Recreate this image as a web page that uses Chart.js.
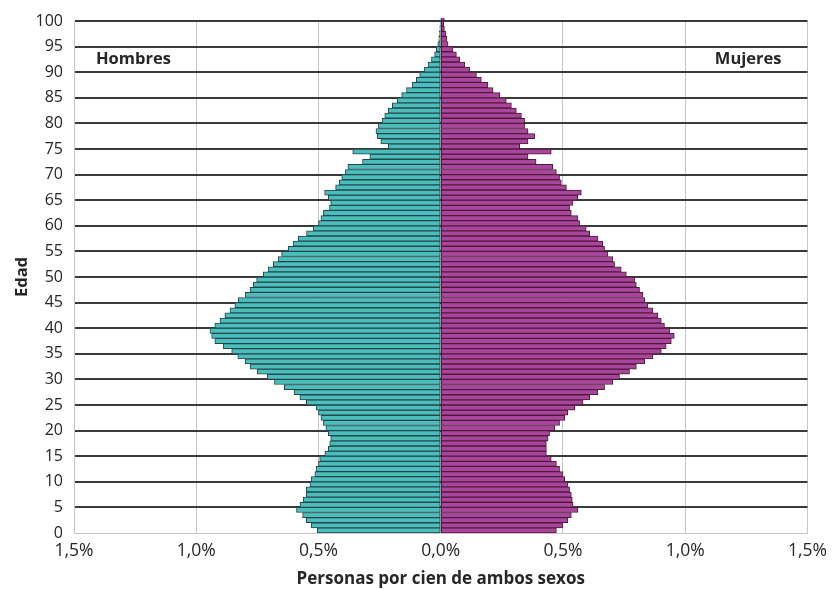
<!DOCTYPE html>
<html>
<head>
<meta charset="utf-8">
<script src="https://cdn.jsdelivr.net/npm/chart.js@4"></script>
<style>
  body { margin: 0; background: #fff; }
  #divPiramide { width: 835px; height: 589px; position: relative; }
</style>
</head>
<body>
<div id="divPiramide"><canvas id="graficoPiramide"></canvas></div>
<script>
// Edades 0..100 (una barra por año)
const edades = Array.from({ length: 101 }, (_, i) => i);

// Porcentaje de hombres por edad (se dibuja a la izquierda)
const hombres = [
  0.505, 0.53, 0.55, 0.565, 0.59, 0.576, 0.563, 0.55, 0.55, 0.535,
  0.53, 0.515, 0.51, 0.50, 0.495, 0.474, 0.46, 0.454, 0.45, 0.46,
  0.47, 0.48, 0.49, 0.50, 0.51, 0.55, 0.576, 0.60, 0.64, 0.68,
  0.71, 0.75, 0.78, 0.80, 0.83, 0.855, 0.89, 0.924, 0.937, 0.944,
  0.924, 0.903, 0.883, 0.862, 0.842, 0.828, 0.80, 0.78, 0.767, 0.753,
  0.726, 0.706, 0.685, 0.665, 0.651, 0.624, 0.604, 0.583, 0.549, 0.522,
  0.50, 0.49, 0.48, 0.455, 0.45, 0.46, 0.475, 0.43, 0.415, 0.405,
  0.39, 0.38, 0.32, 0.29, 0.36, 0.215, 0.245, 0.26, 0.265, 0.255,
  0.24, 0.229, 0.215, 0.198, 0.178, 0.16, 0.14, 0.117, 0.10, 0.086,
  0.068, 0.052, 0.038, 0.025, 0.018, 0.012, 0.008, 0.006, 0.004, 0.003,
  0.003
];

// Porcentaje de mujeres por edad (se dibuja a la derecha)
const mujeres = [
  0.473, 0.50, 0.52, 0.534, 0.561, 0.541, 0.538, 0.534, 0.527, 0.52,
  0.507, 0.50, 0.486, 0.473, 0.452, 0.432, 0.432, 0.432, 0.439, 0.445,
  0.466, 0.486, 0.507, 0.52, 0.548, 0.582, 0.609, 0.643, 0.67, 0.704,
  0.731, 0.772, 0.80, 0.834, 0.868, 0.902, 0.922, 0.943, 0.955, 0.936,
  0.915, 0.902, 0.888, 0.868, 0.847, 0.834, 0.827, 0.813, 0.80, 0.793,
  0.759, 0.738, 0.711, 0.704, 0.684, 0.67, 0.663, 0.643, 0.609, 0.595,
  0.568, 0.561, 0.534, 0.527, 0.541, 0.56, 0.575, 0.514, 0.493, 0.486,
  0.473, 0.458, 0.39, 0.357, 0.452, 0.323, 0.357, 0.384, 0.357, 0.343,
  0.343, 0.33, 0.309, 0.289, 0.268, 0.241, 0.214, 0.193, 0.166, 0.146,
  0.119, 0.098, 0.078, 0.064, 0.05, 0.03, 0.025, 0.02, 0.015, 0.012,
  0.015
];

const etiquetasSexo = ["Hombres", "Mujeres"];
const tituloX = "Personas por cien de ambos sexos";
const tituloY = "Edad";

const fuente = "'Open Sans', 'Noto Sans', sans-serif";
const colorTexto = "#262626";

// Textos "Hombres" / "Mujeres" dentro del área del gráfico
const pluginEtiquetas = {
  id: "etiquetasSexo",
  afterDraw(chart) {
    const { ctx, chartArea } = chart;
    ctx.save();
    ctx.font = "bold 16.5px " + fuente;
    ctx.fillStyle = colorTexto;
    ctx.textBaseline = "middle";
    ctx.textAlign = "left";
    ctx.fillText(etiquetasSexo[0], chartArea.left + 22, chartArea.top + 38);
    ctx.textAlign = "right";
    ctx.fillText(etiquetasSexo[1], chartArea.right - 26, chartArea.top + 38);
    ctx.restore();
  },
};

function renderPiramide() {
  const canvas = document.getElementById("graficoPiramide");

  const estiloBarra = {
    borderWidth: 1,
    borderSkipped: false,
    grouped: false,
    barPercentage: 1,
    categoryPercentage: 1,
    clip: { left: 0, top: 3, right: 0, bottom: 0 },
  };

  new Chart(canvas, {
    type: "bar",
    data: {
      datasets: [
        {
          label: etiquetasSexo[0],
          data: edades.map((e, i) => ({ x: -hombres[i], y: e + 0.5 })),
          backgroundColor: "#4bbdbd",
          borderColor: "#24464a",
          ...estiloBarra,
        },
        {
          label: etiquetasSexo[1],
          data: edades.map((e, i) => ({ x: mujeres[i], y: e + 0.5 })),
          backgroundColor: "#a8469f",
          borderColor: "#501a34",
          ...estiloBarra,
        },
      ],
    },
    options: {
      indexAxis: "y",
      responsive: true,
      maintainAspectRatio: false,
      animation: false,
      layout: { padding: { top: 21, right: 27, left: 0, bottom: 0 } },
      plugins: {
        legend: { display: false },
        tooltip: { enabled: false },
      },
      scales: {
        x: {
          type: "linear",
          min: -1.5,
          max: 1.5,
          afterFit: (scale) => { scale.height = 56; },
          ticks: {
            stepSize: 0.5,
            padding: 8,
            color: colorTexto,
            font: { family: fuente, size: 17.5 },
            callback: (v) => Math.abs(v).toFixed(1).replace(".", ",") + "%",
          },
          grid: { color: "#c6c6c6", lineWidth: 1, drawTicks: false },
          border: { color: "#c6c6c6" },
          title: {
            display: true,
            text: tituloX,
            color: colorTexto,
            font: { family: fuente, size: 17, weight: "bold" },
            padding: { top: 0, bottom: 0 },
          },
        },
        y: {
          type: "linear",
          min: 0,
          max: 100,
          offset: false,
          afterFit: (scale) => { scale.width = 74; },
          ticks: {
            stepSize: 5,
            autoSkip: false,
            padding: 11,
            color: colorTexto,
            font: { family: fuente, size: 16 },
          },
          grid: {
            offset: false,
            drawTicks: false,
            color: (c) => (c.tick && c.tick.value === 0 ? "#c6c6c6" : "#3a3a3a"),
            lineWidth: (c) => (c.tick && c.tick.value === 0 ? 1 : 2),
          },
          border: { color: "#c6c6c6" },
          title: {
            display: true,
            text: tituloY,
            color: colorTexto,
            font: { family: fuente, size: 16.5, weight: "bold" },
            padding: { top: 12, bottom: 0 },
          },
        },
      },
    },
    plugins: [pluginEtiquetas],
  });
}

renderPiramide();
</script>
</body>
</html>
